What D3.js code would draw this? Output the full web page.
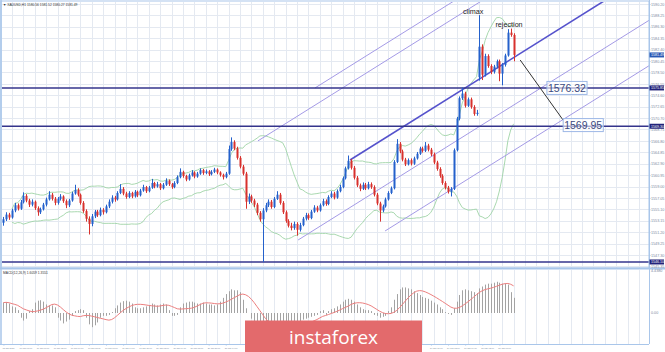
<!DOCTYPE html>
<html><head><meta charset="utf-8">
<script src="https://cdn.jsdelivr.net/npm/d3@7"></script>
<style>html,body{margin:0;padding:0;background:#fff;overflow:hidden}
svg{display:block;font-family:"Liberation Sans",Arial,sans-serif}</style>
</head><body><svg id="c" width="665" height="352"></svg>
<script>
// ---------- data (XAUUSD H1) ----------
const opens=[1552.8,1553.4,1554.2,1553.7,1554.9,1555.8,1555.2,1556.3,1557.4,1556.6,
1555.9,1556.4,1555.3,1554.6,1555.1,1555.9,1556.8,1557.6,1556.9,1556.2,
1556.9,1557.3,1556.5,1555.8,1556.6,1557.8,1558.4,1557.6,1556.2,1554.8,
1553.5,1552.6,1553.9,1554.7,1554.1,1555.0,1554.6,1555.6,1556.4,1557.1,
1556.8,1557.9,1558.6,1557.8,1557.2,1557.9,1557.3,1558.1,1557.5,1558.3,
1558.9,1558.2,1558.8,1559.6,1559.0,1559.4,1558.7,1559.3,1560.0,1559.4,
1558.9,1559.6,1560.6,1561.5,1560.8,1560.2,1560.9,1561.4,1560.7,1561.2,
1561.8,1561.3,1561.6,1561.1,1561.5,1561.9,1561.4,1561.0,1560.6,1561.2,
1565.4,1566.6,1565.5,1563.9,1562.4,1561.2,1556.4,1557.3,1556.6,1555.9,
1554.5,1553.4,1554.9,1555.8,1556.4,1555.5,1556.9,1557.6,1556.2,1554.6,
1553.1,1552.3,1551.9,1552.6,1551.6,1552.4,1553.5,1554.1,1553.6,1554.7,
1555.4,1554.9,1555.8,1556.5,1556.0,1557.2,1557.8,1557.1,1558.2,1558.9,
1560.4,1562.1,1563.4,1562.2,1560.5,1559.2,1558.6,1559.3,1558.7,1559.4,
1558.9,1557.6,1556.1,1554.9,1555.6,1556.8,1557.9,1558.7,1563.2,1566.3,
1565.0,1563.6,1562.8,1563.5,1562.9,1563.8,1564.6,1565.5,1565.1,1566.0,
1565.3,1564.5,1563.1,1562.0,1560.8,1559.6,1558.8,1558.1,1558.6,1565.2,
1570.6,1574.1,1574.9,1572.8,1573.9,1572.6,1571.4,1577.7,1582.9,1578.1,
1581.3,1579.6,1578.6,1579.5,1580.4,1578.3,1579.8,1581.4,1585.3,1584.9];
const highs=[1553.8,1554.6,1554.5,1555.2,1556.2,1556.1,1556.7,1558.0,1557.7,1556.9,
1556.8,1556.6,1555.6,1555.4,1556.2,1557.1,1558.2,1557.9,1557.2,1557.2,
1557.7,1557.5,1556.8,1556.9,1558.1,1559.3,1558.7,1557.8,1556.5,1555.1,
1553.9,1554.3,1555.0,1555.0,1555.4,1555.3,1555.9,1556.8,1557.5,1557.4,
1558.2,1559.4,1558.9,1558.1,1558.2,1558.1,1558.4,1558.3,1558.6,1559.3,
1559.1,1559.1,1560.3,1559.8,1559.8,1559.6,1559.6,1560.4,1560.2,1559.6,
1559.9,1560.9,1562.1,1561.7,1561.0,1561.2,1561.8,1561.6,1561.5,1562.1,
1562.0,1561.9,1561.8,1561.8,1562.2,1562.1,1561.6,1561.2,1561.5,1566.0,
1567.4,1566.9,1565.8,1564.2,1562.7,1561.5,1557.8,1557.6,1556.9,1556.2,
1554.8,1555.3,1556.2,1556.8,1556.7,1557.2,1558.2,1557.9,1556.5,1554.9,
1553.4,1552.8,1553.0,1552.9,1552.8,1553.8,1554.5,1554.4,1555.0,1555.8,
1555.7,1556.1,1556.9,1556.8,1557.5,1558.2,1558.1,1558.5,1559.3,1560.7,
1562.4,1564.3,1563.7,1562.5,1560.8,1559.5,1559.7,1559.6,1559.8,1559.7,
1559.2,1557.9,1556.4,1555.9,1557.1,1558.2,1559.0,1563.5,1567.1,1566.6,
1565.3,1563.9,1563.8,1563.8,1564.1,1564.9,1565.8,1565.8,1566.6,1566.3,
1565.6,1564.8,1563.4,1562.3,1561.1,1559.9,1559.1,1558.9,1565.5,1570.9,
1574.4,1575.9,1575.2,1574.2,1574.2,1572.9,1572.1,1588.3,1583.3,1581.7,
1581.6,1579.9,1579.8,1580.7,1580.7,1580.1,1581.7,1585.9,1586.0,1585.2];
const lows=[1552.3,1553.1,1553.3,1553.5,1554.6,1554.9,1555.0,1556.1,1556.3,1555.5,
1555.6,1555.0,1554.0,1554.3,1554.9,1555.6,1556.6,1556.6,1555.8,1555.9,
1556.6,1556.2,1555.3,1555.5,1556.4,1557.6,1557.3,1555.9,1554.5,1553.0,
1550.8,1552.2,1553.6,1553.8,1553.9,1554.2,1554.4,1555.3,1556.1,1556.4,
1556.6,1557.7,1557.5,1556.9,1557.0,1557.0,1557.1,1557.2,1557.3,1558.1,
1557.9,1558.0,1558.6,1558.7,1558.8,1558.4,1558.5,1559.1,1559.1,1558.6,
1558.7,1559.4,1560.4,1560.5,1559.9,1560.0,1560.7,1560.4,1560.5,1561.0,
1561.0,1561.1,1560.8,1560.9,1561.3,1561.1,1560.7,1560.2,1560.4,1561.0,
1565.1,1565.2,1563.6,1562.1,1560.9,1555.2,1556.0,1556.2,1555.5,1554.1,
1553.0,1546.1,1554.6,1555.5,1555.2,1555.3,1556.7,1555.9,1554.3,1552.8,
1552.0,1551.5,1551.6,1550.6,1551.3,1552.2,1553.2,1553.3,1553.4,1554.5,
1554.6,1554.7,1555.6,1555.7,1555.8,1557.0,1556.8,1556.9,1558.0,1558.7,
1560.2,1561.9,1561.9,1560.2,1558.9,1558.2,1558.4,1558.4,1558.5,1558.6,
1557.3,1555.8,1553.0,1554.6,1555.4,1556.6,1557.7,1558.5,1563.0,1564.7,
1563.3,1562.5,1562.6,1562.6,1562.7,1563.6,1564.4,1564.8,1564.9,1565.0,
1564.2,1562.8,1561.7,1560.5,1559.3,1558.5,1557.8,1557.3,1558.4,1565.0,
1570.3,1573.8,1572.5,1572.6,1572.3,1571.1,1571.1,1577.1,1577.2,1577.8,
1579.3,1578.2,1578.3,1579.2,1577.0,1576.3,1579.5,1581.2,1584.6,1580.4];
const closes=[1553.4,1554.2,1553.7,1554.9,1555.8,1555.2,1556.3,1557.4,1556.6,1555.9,
1556.4,1555.3,1554.6,1555.1,1555.9,1556.8,1557.6,1556.9,1556.2,1556.9,
1557.3,1556.5,1555.8,1556.6,1557.8,1558.4,1557.6,1556.2,1554.8,1553.5,
1552.6,1553.9,1554.7,1554.1,1555.0,1554.6,1555.6,1556.4,1557.1,1556.8,
1557.9,1558.6,1557.8,1557.2,1557.9,1557.3,1558.1,1557.5,1558.3,1558.9,
1558.2,1558.8,1559.6,1559.0,1559.4,1558.7,1559.3,1560.0,1559.4,1558.9,
1559.6,1560.6,1561.5,1560.8,1560.2,1560.9,1561.4,1560.7,1561.2,1561.8,
1561.3,1561.6,1561.1,1561.5,1561.9,1561.4,1561.0,1560.6,1561.2,1565.4,
1566.6,1565.5,1563.9,1562.4,1561.2,1556.4,1557.3,1556.6,1555.9,1554.5,
1553.4,1554.9,1555.8,1556.4,1555.5,1556.9,1557.6,1556.2,1554.6,1553.1,
1552.3,1551.9,1552.6,1551.6,1552.4,1553.5,1554.1,1553.6,1554.7,1555.4,
1554.9,1555.8,1556.5,1556.0,1557.2,1557.8,1557.1,1558.2,1558.9,1560.4,
1562.1,1563.4,1562.2,1560.5,1559.2,1558.6,1559.3,1558.7,1559.4,1558.9,
1557.6,1556.1,1554.9,1555.6,1556.8,1557.9,1558.7,1563.2,1566.3,1565.0,
1563.6,1562.8,1563.5,1562.9,1563.8,1564.6,1565.5,1565.1,1566.0,1565.3,
1564.5,1563.1,1562.0,1560.8,1559.6,1558.8,1558.1,1558.6,1565.2,1570.6,
1574.1,1574.9,1572.8,1573.9,1572.6,1571.4,1571.6,1582.9,1578.1,1581.3,
1579.6,1578.6,1579.5,1580.4,1578.3,1579.8,1581.4,1585.3,1584.9,1581.49];
// MACD(12,26,9) main line
const macdMain=[1.1,1.15,1.0,0.7,0.6,0.3,-0.5,-0.8,-0.6,0.2,
0.4,1.1,1.3,1.35,1.2,0.9,0.8,0.8,0.6,-0.5,
-0.8,-1.1,-0.9,-0.7,-0.3,0.2,0.3,0.4,0.3,-0.5,
-1.2,-1.5,-1.3,-1.0,-0.5,-0.3,-0.3,-0.2,0.1,0.5,
0.8,1.1,1.25,1.3,1.2,1.0,0.6,0.5,0.5,0.6,
0.7,0.8,1.0,0.9,0.8,0.9,1.0,0.9,0.3,-0.3,
-0.3,-0.2,0.6,1.0,1.1,1.2,1.2,1.1,1.0,1.0,
1.1,1.0,0.9,0.9,0.8,0.9,1.2,1.6,2.0,2.3,
2.5,2.4,2.4,2.2,1.4,0.5,0.0,-0.6,-1.0,-1.3,
-1.4,-1.5,-1.5,-1.4,-1.3,-1.2,-1.3,-1.5,-1.6,-1.6,
-1.5,-1.4,-1.3,-1.2,-1.0,-0.7,-0.6,-0.5,-0.4,-0.3,
-0.2,0.2,0.3,-0.2,0.2,0.4,0.5,0.7,0.9,1.2,
1.4,1.5,1.4,1.2,0.9,0.6,0.4,0.3,0.3,0.2,
-0.2,-0.3,-0.5,-0.4,-0.3,0.2,0.6,1.4,2.0,2.5,
2.7,2.7,2.6,2.5,2.3,2.1,1.9,1.7,1.6,1.5,
1.3,1.1,0.9,0.6,0.4,0.1,-0.1,-0.2,0.5,1.2,
1.9,2.4,2.5,2.4,2.3,2.2,2.1,2.6,2.8,3.0,
3.1,3.1,3.2,3.3,3.2,3.1,3.1,3.0,2.2,1.6059];

const priceTicks=[1545.35,1547.30,1549.25,1551.20,1553.15,1555.10,1557.05,1559.00,1560.95,1562.90,
1564.85,1566.80,1568.75,1570.70,1572.65,1574.60,1576.55,1578.50,1580.45,1582.40,1584.35,1586.30,1588.25,1590.20];
const timeTickIdx=[0,6,12,18,24,30,36,42,48,54,60,66,72,78,84,90,96,102,108,114,120,126,132,138,144,150,156,162,168,174];
const timeTickLabels=["15 Jan 2020","16 Jan 01:00","16 Jan 07:00","16 Jan 13:00","16 Jan 19:00","17 Jan 02:00","17 Jan 08:00","17 Jan 14:00","17 Jan 20:00","20 Jan 03:00","20 Jan 09:00","20 Jan 15:00","20 Jan 21:00","21 Jan 04:00","21 Jan 10:00","21 Jan 16:00","21 Jan 22:00","22 Jan 05:00","22 Jan 11:00","22 Jan 17:00","22 Jan 23:00","23 Jan 06:00","23 Jan 12:00","23 Jan 18:00","24 Jan 01:00","24 Jan 07:00","24 Jan 13:00","24 Jan 19:00","27 Jan 02:00","27 Jan 08:00"];
const levelPrices=[1575.85,1569.30,1546.10];
const lastPrice=1581.49;
// channel lines: start (bar index, price), slope in price per bar
const channelStarts=[[89.3,1566.8],[109.3,1575.84],[121.6,1563.53],[103.4,1549.86],[133.9,1551.4]];
const channelThick=[false,false,true,false,false];
const channelSlope=0.305;
const arrowPts=[[181.3,1580.63],[196.3,1570.4]];
const textNotes=[{t:"climax",i:164.8,p:1588.8},{t:"rejection",i:177.4,p:1586.6}];
const boxNotes=[{t:"1576.32",i:197.7,p:1575.85},{t:"1569.95",i:203.4,p:1569.5}];
const macdAxisMax=4.438;
const macdAxisLabels=["4.4380","0.00"];
const headerText="\u25BC XAUUSD,H1  1580.56 1581.52 1580.27 1581.49";
const macdText="MACD(12,26,9) 1.6059 1.3551";

// ---------- layout ----------
const svg=d3.select('#c');
const plotL=2, plotR=649, mainT=2, mainB=268, macdT=270, macdB=344;
const logo={x0:245,x1:422,y0:320.5};
const x=d3.scaleLinear().domain([-0.5,226.5]).range([plotL,plotR]);
const y=d3.scaleLinear().domain([1545.07,1590.54]).range([mainB,mainT]);
const N=closes.length;
const gridCol="#e4e9f1", frameCol="#a9c6ea", axisTxt="#7a8aa0";

svg.append('rect').attr('width',665).attr('height',352).attr('fill','#fff');
const defs=svg.append('defs');
defs.append('clipPath').attr('id','cm').append('rect').attr('x',plotL).attr('y',mainT).attr('width',plotR-plotL).attr('height',mainB-mainT);

// grid
const gridIdx=d3.range(3,227,4);
[[mainT,mainB],[macdT,macdB]].forEach(([t,b])=>{
  svg.append('g').selectAll('line').data(gridIdx).join('line')
   .attr('x1',d=>Math.round(x(d))+0.5).attr('x2',d=>Math.round(x(d))+0.5)
   .attr('y1',t).attr('y2',b).attr('stroke',gridCol).attr('stroke-width',1);
});
svg.append('g').selectAll('line').data(priceTicks).join('line')
  .attr('x1',plotL).attr('x2',plotR).attr('y1',d=>Math.round(y(d))+0.5).attr('y2',d=>Math.round(y(d))+0.5)
  .attr('stroke',gridCol).attr('stroke-width',1);

const main=svg.append('g').attr('clip-path','url(#cm)');

// Bollinger bands (20, 2)
const bbU=[],bbL=[];
closes.forEach((c,i)=>{ if(i<3) return; const w=closes.slice(Math.max(0,i-19),i+1); const m=d3.mean(w);
  const sd=Math.sqrt(d3.mean(w.map(v=>(v-m)*(v-m)))); bbU.push([i,m+2*sd]); bbL.push([i,m-2*sd]); });
const ln=d3.line().x(d=>x(d[0])).y(d=>y(d[1]));
[bbU,bbL].forEach(b=>main.append('path').attr('d',ln(b)).attr('fill','none').attr('stroke','#9fd4a6').attr('stroke-width',0.9));

// channel lines
channelStarts.forEach((s,k)=>{
  const iEnd=226.5; const pEnd=s[1]+channelSlope*(iEnd-s[0]);
  main.append('line').attr('x1',x(s[0])).attr('y1',y(s[1])).attr('x2',x(iEnd)).attr('y2',y(pEnd))
   .attr('stroke',channelThick[k]?'#5552cc':'#a49ae6').attr('stroke-width',channelThick[k]?1.6:1);
});

// level lines
main.selectAll('.lv').data(levelPrices).join('line')
  .attr('x1',plotL).attr('x2',plotR).attr('y1',d=>y(d)).attr('y2',d=>y(d))
  .attr('stroke','#34348c').attr('stroke-width',1.5);

// candles
const cg=main.append('g');
d3.range(N).forEach(i=>{
  const up=closes[i]>=opens[i]; const col=up?'#2461cc':'#d8312d';
  const cx=Math.round(x(i));
  cg.append('line').attr('x1',cx+0.5).attr('x2',cx+0.5).attr('y1',y(highs[i])).attr('y2',y(lows[i])).attr('stroke',col).attr('stroke-width',1);
  const t=y(Math.max(opens[i],closes[i])), b=y(Math.min(opens[i],closes[i]));
  cg.append('rect').attr('x',cx-0.5).attr('width',2).attr('y',t).attr('height',Math.max(1,b-t)).attr('fill',col);
});

// arrow line
main.append('line').attr('x1',x(arrowPts[0][0])).attr('y1',y(arrowPts[0][1])).attr('x2',x(arrowPts[1][0])).attr('y2',y(arrowPts[1][1]))
  .attr('stroke','#333').attr('stroke-width',1);

// text notes
textNotes.forEach(n=>svg.append('text').attr('x',x(n.i)).attr('y',y(n.p)).attr('text-anchor','middle').attr('dominant-baseline','middle')
  .attr('font-size',7.2).attr('fill','#222').text(n.t));
boxNotes.forEach(n=>{
  const g=svg.append('g');
  const tx=g.append('text').attr('x',x(n.i)).attr('y',y(n.p)+3.8).attr('text-anchor','middle').attr('font-size',10.5).attr('fill','#3b4a7e').text(n.t);
  const bb=tx.node().getBBox();
  g.insert('rect','text').attr('x',bb.x-1).attr('y',y(n.p)-6.5).attr('width',bb.width+2).attr('height',13)
   .attr('fill','#fff').attr('fill-opacity',0.6).attr('stroke','#9db8e6').attr('stroke-width',1);
});

// frames
svg.append('rect').attr('x',1).attr('y',1).attr('width',plotR-1).attr('height',mainB-1).attr('fill','none').attr('stroke',frameCol).attr('stroke-width',1);
svg.append('line').attr('x1',0).attr('x2',665).attr('y1',268.5).attr('y2',268.5).attr('stroke',frameCol).attr('stroke-width',2);
svg.append('line').attr('x1',plotR+0.5).attr('x2',plotR+0.5).attr('y1',0).attr('y2',macdB).attr('stroke',frameCol).attr('stroke-width',1);
svg.append('line').attr('x1',0).attr('x2',plotR).attr('y1',macdB+0.5).attr('y2',macdB+0.5).attr('stroke',frameCol).attr('stroke-width',1);
svg.append('line').attr('x1',1).attr('x2',1).attr('y1',0).attr('y2',macdB).attr('stroke',frameCol).attr('stroke-width',1.5);

// right price axis
const ax=svg.append('g').attr('transform',`translate(${plotR},0)`).call(d3.axisRight(y).tickValues(priceTicks).tickSize(1.5).tickFormat(d3.format('.2f')));
ax.select('.domain').remove();
ax.selectAll('line').attr('stroke',frameCol);
ax.selectAll('text').attr('x',2).attr('font-size',3.7).attr('fill',axisTxt).attr('font-family','"Liberation Sans",Arial');
const boxVals=levelPrices.map(v=>({v,c:'#23237a'})).concat([{v:lastPrice,c:'#2a58b4'}]);
boxVals.forEach(b=>{
  svg.append('rect').attr('x',plotR+0.5).attr('y',y(b.v)-2.5).attr('width',14.5).attr('height',5).attr('fill',b.c);
  svg.append('text').attr('x',plotR+2).attr('y',y(b.v)+1.3).attr('font-size',3.6).attr('fill','#fff').text(d3.format('.2f')(b.v));
});

// bottom time axis (labels under the logo are hidden, as in the screenshot)
const visIdx=timeTickIdx.filter(i=>{const px=x(i); return px+13<logo.x0 || px-2>logo.x1;});
const bx=svg.append('g').attr('transform',`translate(0,${macdB})`)
  .call(d3.axisBottom(x).tickValues(visIdx).tickSize(1.5).tickFormat(d=>timeTickLabels[timeTickIdx.indexOf(d)]));
bx.select('.domain').remove();
bx.selectAll('line').attr('stroke',frameCol);
bx.selectAll('text').attr('text-anchor','start').attr('dx',-1.5).attr('y',3).attr('dy','0.71em').attr('font-size',2.2).attr('fill',axisTxt);

// MACD panel
const sig=macdMain.map((v,i)=>d3.mean(macdMain.slice(Math.max(0,i-8),i+1)));
const yM=d3.scaleLinear().domain([0,macdAxisMax]).range([313,271]);
svg.append('g').selectAll('line').data(macdMain).join('line')
  .attr('x1',(d,i)=>Math.round(x(i))+0.5).attr('x2',(d,i)=>Math.round(x(i))+0.5)
  .attr('y1',yM(0)).attr('y2',d=>yM(d)).attr('stroke','#a3a3a3').attr('stroke-width',1);
svg.append('path').attr('d',d3.line().x((d,i)=>x(i)).y(d=>yM(d))(sig)).attr('fill','none').attr('stroke','#ec7f7f').attr('stroke-width',1);
svg.append('text').attr('x',plotR+2).attr('y',yM(macdAxisMax)+1.4).attr('font-size',3.7).attr('fill',axisTxt).text(macdAxisLabels[0]);
svg.append('text').attr('x',plotR+2).attr('y',yM(0)+1.4).attr('font-size',3.7).attr('fill',axisTxt).text(macdAxisLabels[1]);

// header texts
svg.append('text').attr('x',3).attr('y',5.5).attr('font-size',3.3).attr('fill','#333').text(headerText);
svg.append('text').attr('x',3).attr('y',273.5).attr('font-size',3.3).attr('fill','#333').text(macdText);

// logo
svg.append('rect').attr('x',logo.x0).attr('y',logo.y0).attr('width',logo.x1-logo.x0).attr('height',352-logo.y0).attr('fill','#e36a6c');
svg.append('text').attr('x',(logo.x0+logo.x1)/2).attr('y',343.5).attr('text-anchor','middle').attr('font-family','"Open Sans",sans-serif')
  .attr('font-size',19).attr('fill','#fff').text('instaforex');
</script></body></html>
